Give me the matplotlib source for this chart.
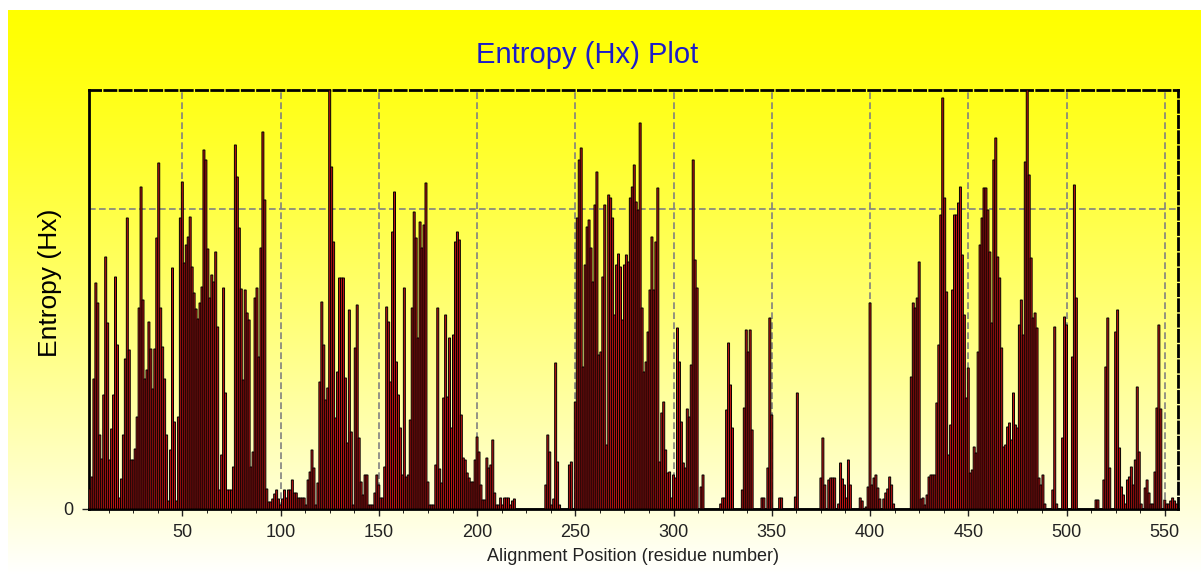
import numpy as np
import matplotlib
matplotlib.use('Agg')
import matplotlib.pyplot as plt
from matplotlib.ticker import MultipleLocator

plt.rcParams['font.family'] = ['Liberation Sans', 'DejaVu Sans']

# entropy per alignment position, starting at position 3
first_pos = 3
entropy = [
    0.2, 0.32, 1.3, 2.26, 2.06, 0.74, 0.5, 1.14,
    2.52, 1.86, 0.49, 0.8, 1.14, 2.32, 1.64, 0.11, 0.3, 0.74,
    1.5, 2.91, 1.59, 0.49, 0.49, 0.6, 0.92, 2.01, 3.22, 2.09,
    1.3, 1.39, 1.87, 1.6, 1.2, 1.6, 2.71, 3.46, 2.01, 1.62,
    1.3, 0.74, 0.08, 0.59, 2.41, 0.87, 0.08, 0.92, 2.91, 3.27,
    2.46, 2.64, 2.72, 2.92, 2.42, 2.16, 2.0, 1.9, 2.06, 2.22,
    3.59, 3.49, 2.6, 2.11, 2.34, 2.27, 2.57, 1.82, 0.19, 0.54,
    2.21, 1.16, 0.19, 0.19, 0.19, 0.42, 3.64, 3.32, 2.81, 2.2,
    1.29, 2.19, 1.96, 1.89, 0.42, 0.57, 2.11, 2.21, 1.52, 2.61,
    3.77, 3.09, 0.2, 0.07, 0.07, 0.1, 0.15, 0.19, 0.1, 0.04,
    0.1, 0.19, 0.11, 0.19, 0.19, 0.29, 0.16, 0.16, 0.11, 0.11,
    0.11, 0.11, 0.04, 0.29, 0.37, 0.59, 0.41, 0.04, 0.26, 1.27,
    2.07, 1.64, 1.09, 1.21, 4.19, 3.42, 2.67, 0.91, 1.37, 2.31,
    2.31, 2.31, 1.31, 0.66, 1.99, 0.77, 0.04, 1.61, 2.04, 0.71,
    0.27, 0.14, 0.34, 0.34, 0.04, 0.04, 0.04, 0.16, 0.34, 0.24,
    0.11, 0.11, 0.42, 2.02, 1.87, 1.27, 2.77, 3.17, 1.47, 1.14,
    0.81, 0.34, 2.21, 0.32, 0.34, 0.89, 2.01, 2.97, 2.71, 1.71,
    2.87, 2.61, 2.84, 3.26, 0.27, 0.04, 0.04, 0.04, 0.44, 2.01,
    0.4, 0.26, 1.11, 1.94, 1.12, 1.71, 0.81, 1.74, 2.67, 2.77,
    2.69, 0.94, 0.51, 0.49, 0.36, 0.31, 0.27, 0.27, 0.49, 0.72,
    0.57, 0.24, 0.09, 0.09, 0.51, 0.41, 0.44, 0.69, 0.16, 0.04,
    0.04, 0.11, 0.04, 0.11, 0.11, 0.11, 0.04, 0.08, 0.1, 0.0,
    0, 0, 0, 0, 0, 0, 0, 0, 0, 0,
    0, 0, 0, 0, 0.24, 0.74, 0.57, 0.04, 0.1, 1.46,
    0.47, 0.04, 0, 0, 0, 0, 0.44, 0.47, 0, 1.07,
    2.91, 3.49, 3.61, 1.42, 2.44, 2.82, 2.89, 2.61, 2.27, 3.04,
    3.37, 1.54, 1.57, 2.32, 3.04, 0.64, 3.14, 3.11, 2.91, 1.94,
    2.44, 2.55, 2.42, 1.89, 2.44, 2.54, 2.47, 3.11, 3.22, 3.44,
    3.07, 2.99, 3.86, 2.01, 1.37, 1.47, 1.77, 2.19, 2.72, 2.19,
    2.67, 3.21, 0.47, 0.96, 1.07, 0.59, 0.36, 0.37, 0.11, 0.34,
    0.31, 1.81, 1.47, 0.87, 0.46, 0.41, 1.0, 0.92, 1.44, 3.49,
    2.49, 2.21, 0, 0.22, 0.34, 0, 0, 0, 0, 0,
    0, 0, 0, 0.05, 0.11, 0.11, 0.99, 1.66, 1.24, 0.81,
    0, 0, 0, 0, 0.19, 1.01, 1.79, 1.57, 1.79, 0.79,
    0, 0, 0, 0, 0.11, 0.11, 0, 0.41, 1.91, 0.94,
    0, 0, 0, 0.11, 0.11, 0, 0, 0, 0, 0,
    0, 0.12, 1.16, 0, 0, 0, 0, 0, 0, 0,
    0, 0, 0, 0, 0.31, 0.71, 0.24, 0, 0.29, 0.31,
    0.31, 0.31, 0, 0.05, 0.46, 0.3, 0.24, 0.11, 0.49, 0.24,
    0, 0, 0, 0, 0.11, 0.08, 0, 0.02, 0.22, 2.06,
    0.24, 0.31, 0.34, 0.21, 0.1, 0, 0.1, 0.16, 0.2, 0.32,
    0.24, 0.05, 0, 0, 0, 0, 0, 0, 0, 0,
    1.32, 2.06, 2.01, 2.11, 2.47, 0.1, 0.11, 0.04, 0.14, 0.32,
    0.34, 0.34, 0.34, 1.06, 1.64, 2.94, 4.11, 3.11, 2.17, 0.54,
    0.84, 2.19, 2.94, 2.94, 3.06, 3.22, 2.54, 1.94, 1.11, 1.41,
    0.36, 0.39, 0.62, 0.56, 1.57, 2.64, 2.91, 3.21, 3.21, 2.99,
    2.57, 1.86, 3.49, 3.71, 2.52, 2.31, 1.61, 0.62, 0.64, 0.82,
    0.86, 0.69, 1.16, 0.84, 0.81, 1.84, 2.09, 1.74, 3.47, 4.19,
    3.34, 2.51, 1.91, 1.96, 1.81, 0.31, 0.24, 0.34, 0.05, 0,
    0, 0, 0.19, 1.82, 0.05, 0, 0, 0.71, 1.92, 1.84,
    0, 0, 1.52, 3.24, 2.11, 0, 0, 0, 0, 0,
    0, 0, 0, 0, 0.09, 0.09, 0, 0, 0.29, 1.42,
    1.91, 0.41, 0, 0, 1.77, 1.99, 0.61, 0.22, 0.14, 0.05,
    0.29, 0.32, 0.42, 0.24, 0.49, 1.22, 0.57, 0.05, 0, 0.21,
    0.29, 0.16, 0.05, 0.05, 0.37, 1.01, 1.84, 1.0, 0, 0.09,
    0.05, 0.05, 0.08, 0.11, 0.08, 0.05,
]
xticks = [50, 100, 150, 200, 250, 300, 350, 400, 450, 500, 550]

positions = np.arange(first_pos, first_pos + len(entropy))

fig = plt.figure(figsize=(12.01, 5.75), dpi=100)
fig.patch.set_facecolor('white')

# yellow to white background
bg = fig.add_axes([0.007, 0.0, 0.993, 0.983], zorder=-5)
rows = np.linspace(0, 1, 300)
blue = (rows ** 1.25)[:, None] * np.ones((300, 10))
img = np.dstack([np.ones_like(blue), np.ones_like(blue), blue])
bg.imshow(img, aspect='auto', extent=[0, 1, 0, 1], origin='upper')
bg.axis('off')

ax = fig.add_axes([0.0741, 0.1148, 0.9067, 0.7287])
ax.patch.set_alpha(0)
ax.bar(positions, entropy, width=1.0, color='#c01414', edgecolor='black',
       linewidth=0.7, zorder=3, snap=False)

ax.set_xlim(2.5, 556.7)
ax.set_ylim(0, 4.19)
ax.set_xticks(xticks)
ax.xaxis.set_minor_locator(MultipleLocator(12.5))
ax.set_yticks([0])
ax.tick_params(axis='both', labelsize=13, colors='#222222', length=5, width=1, pad=6)
ax.tick_params(axis='x', which='minor', length=3)

for x in xticks:
    ax.axvline(x, color='#808080', ls=(0, (4, 2)), lw=1.2, zorder=1)
ax.axhline(3.0, color='#808080', ls=(0, (4, 2)), lw=1.2, zorder=1)

for s in ['left', 'bottom']:
    ax.spines[s].set_linewidth(2)
for s in ['top', 'right']:
    ax.spines[s].set_linewidth(2)
    ax.spines[s].set_linestyle((0, (4, 1.5)))

fig.text(0.489, 0.904, 'Entropy (Hx) Plot', fontsize=21, color='#1c1cc8',
         ha='center', va='center')
ax.set_ylabel('Entropy (Hx)', fontsize=19)
ax.yaxis.set_label_coords(-0.025, 0.54)
ax.set_xlabel('Alignment Position (residue number)', fontsize=13, labelpad=5,
              color='#222222')

fig.savefig('out.png', dpi=100)
